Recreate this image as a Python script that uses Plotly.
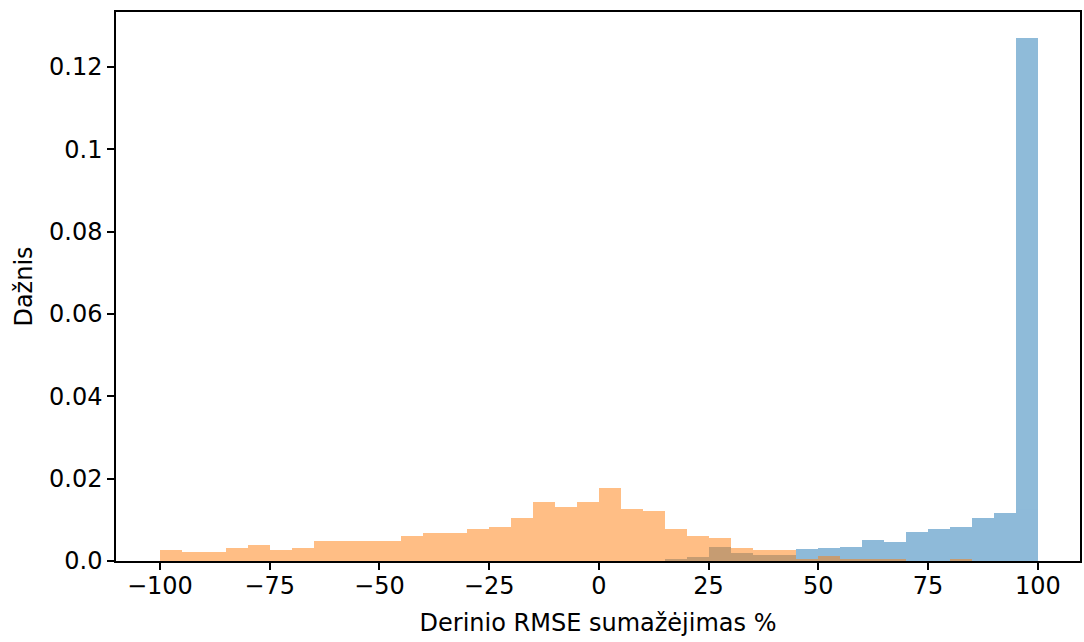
import plotly.graph_objects as go

# Histogram bin edges (width 5, from -100 to 100)
bin_left = [-100, -95, -90, -85, -80, -75, -70, -65, -60, -55,
            -50, -45, -40, -35, -30, -25, -20, -15, -10, -5,
            0, 5, 10, 15, 20, 25, 30, 35, 40, 45,
            50, 55, 60, 65, 70, 75, 80, 85, 90, 95]
bin_width = 5

# Blue series (density)
blue_vals = [0, 0, 0, 0, 0, 0, 0, 0, 0, 0,
             0, 0, 0, 0, 0, 0, 0, 0, 0, 0,
             0, 0, 0, 0.0005, 0.0009, 0.0035, 0.0019, 0.0015, 0.0014, 0.0030,
             0.0032, 0.0034, 0.0052, 0.0045, 0.0070, 0.0078, 0.0082, 0.0104, 0.0117, 0.1271]

# Orange series (density)
orange_vals = [0.0027, 0.0022, 0.0022, 0.0031, 0.0039, 0.0027, 0.0031, 0.0048, 0.0048, 0.0048,
               0.0048, 0.0060, 0.0069, 0.0069, 0.0078, 0.0082, 0.0104, 0.0143, 0.0131, 0.0143,
               0.0178, 0.0127, 0.0121, 0.0078, 0.0060, 0.0056, 0.0031, 0.0027, 0.0027, 0.0005,
               0.0013, 0.0004, 0.0004, 0.0004, 0, 0, 0.0004, 0, 0, 0]

x_tick_vals = [-100, -75, -50, -25, 0, 25, 50, 75, 100]
x_tick_text = ["\u2212100", "\u221275", "\u221250", "\u221225", "0", "25", "50", "75", "100"]
y_tick_vals = [0.0, 0.02, 0.04, 0.06, 0.08, 0.1, 0.12]
y_tick_text = ["0.0", "0.02", "0.04", "0.06", "0.08", "0.1", "0.12"]

font = "DejaVu Sans"
fs = 24

fig = go.Figure()
fig.add_trace(go.Bar(
    x=bin_left, y=blue_vals, width=[bin_width] * len(bin_left), offset=0,
    marker=dict(color="#1f77b4", line=dict(width=0)), opacity=0.5,
    hoverinfo="x+y", showlegend=False))
fig.add_trace(go.Bar(
    x=bin_left, y=orange_vals, width=[bin_width] * len(bin_left), offset=0,
    marker=dict(color="#ff7f0e", line=dict(width=0)), opacity=0.5,
    hoverinfo="x+y", showlegend=False))

fig.update_layout(
    width=1084, height=642,
    margin=dict(l=116, r=2, t=12, b=81),
    barmode="overlay", bargap=0,
    plot_bgcolor="white", paper_bgcolor="white",
    font=dict(family=font, size=fs, color="black"),
)
fig.update_xaxes(
    range=[-110, 109.6], tickvals=x_tick_vals, ticktext=x_tick_text,
    ticks="outside", ticklen=7, tickwidth=1.5, tickcolor="black",
    ticklabelstandoff=-5,
    showline=True, linecolor="black", linewidth=1.5, mirror=True,
    showgrid=False, zeroline=False,
    title=dict(text="Derinio RMSE sumažėjimas %", font=dict(size=fs), standoff=16),
)
fig.update_yaxes(
    range=[0, 0.13335], tickvals=y_tick_vals, ticktext=y_tick_text,
    ticks="outside", ticklen=7, tickwidth=1.5, tickcolor="black",
    showline=True, linecolor="black", linewidth=1.5, mirror=True,
    showgrid=False, zeroline=False,
    title=dict(text="Dažnis", font=dict(size=fs), standoff=10),
)

# remove the page's default body margin so the figure fills the window exactly
fig.write_html(
    "out.html",
    config={"displayModeBar": False},
    post_script="document.body.style.margin='0';document.body.style.overflow='hidden';",
)
